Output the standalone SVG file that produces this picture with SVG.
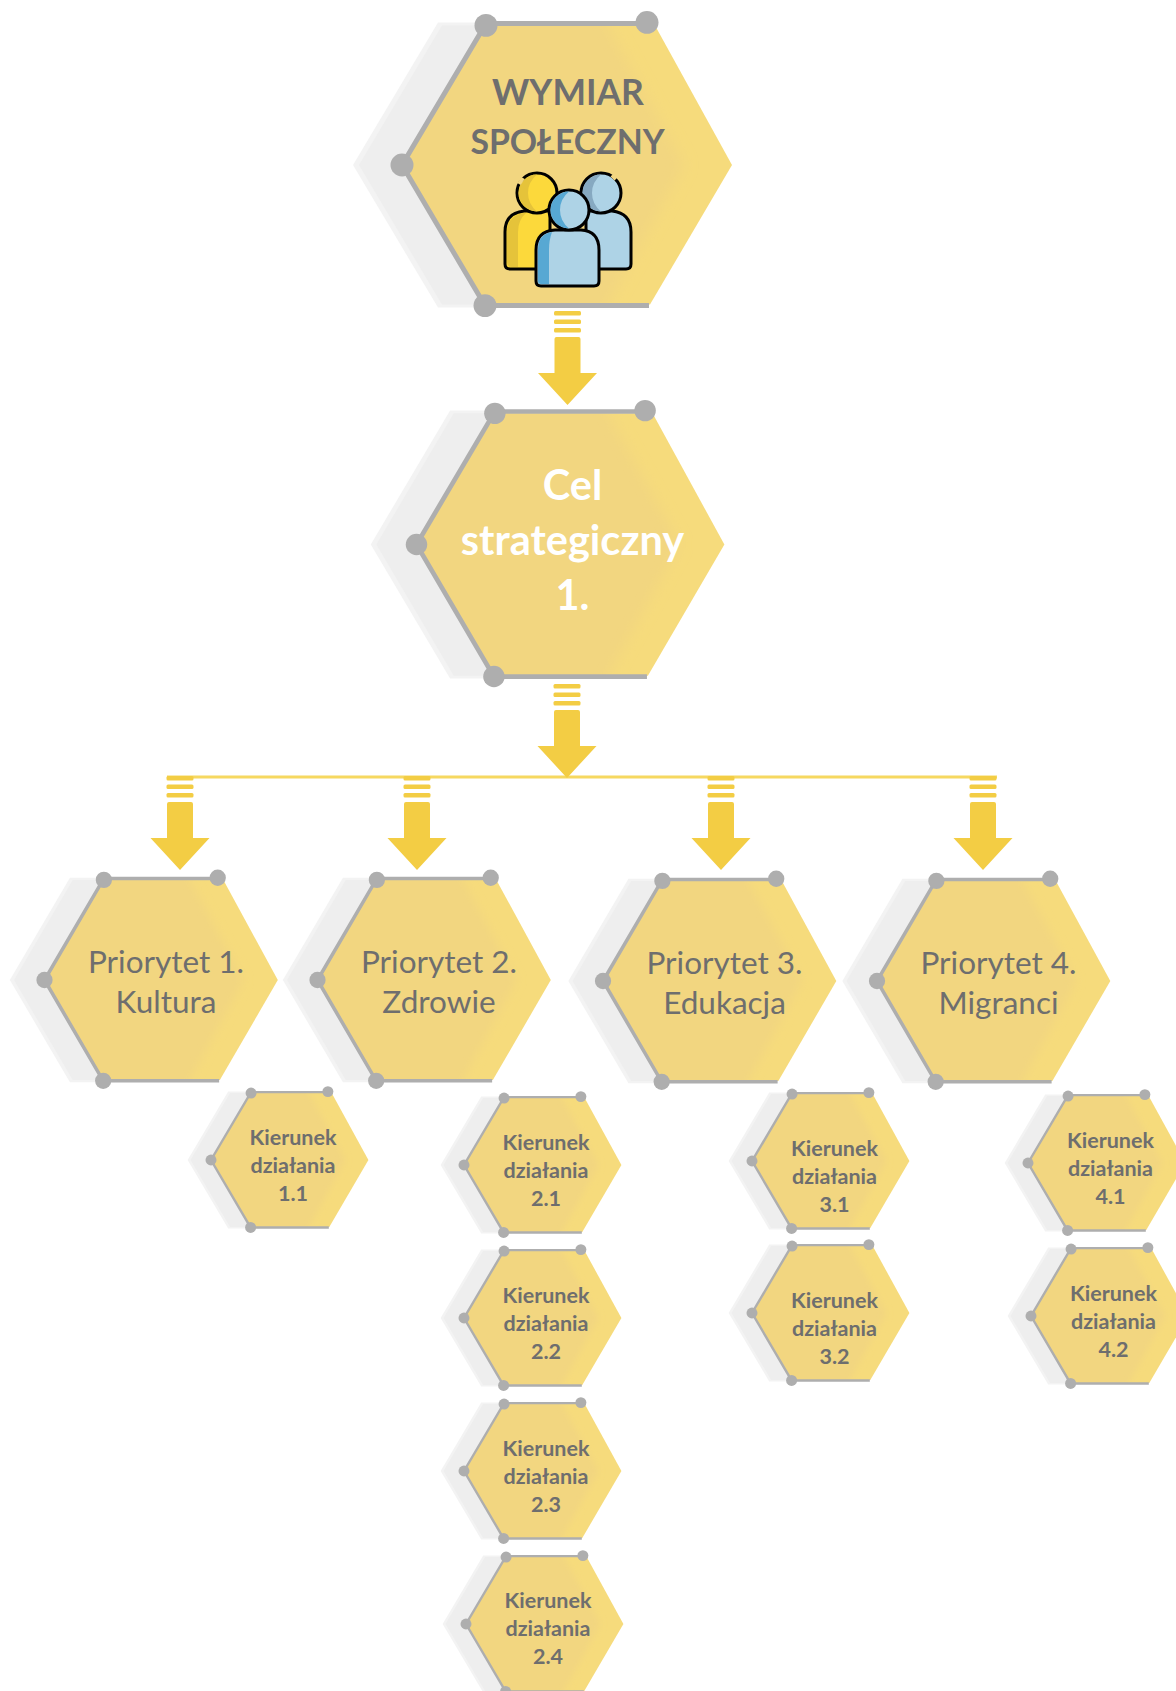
<svg xmlns="http://www.w3.org/2000/svg" width="1176" height="1691" viewBox="0 0 1176 1691">
<style>
text{font-family:"Lato","Noto Sans",sans-serif;text-anchor:middle;fill:#6e6e6e}
.t1{font-size:35.500px;font-weight:700}
.t1b{font-size:33.800px;font-weight:700}
.t2{font-size:41.500px;font-weight:700;fill:#fff}
.t3{font-size:31.500px}
.t4{font-size:21.500px;font-weight:700}
.ink{stroke:#000;stroke-width:3;stroke-linejoin:round}
</style>
<defs>
<clipPath id="hexclip"><polygon points="0,0 84,-141 253,-141 330,0 248,141 83,141"/></clipPath>
<filter id="soft" x="-10%" y="-10%" width="120%" height="120%"><feGaussianBlur stdDeviation="7"/></filter>
<g id="hex">
<polygon points="-49,0 36,-144 100,-144 100,144 36,144" fill="#f3f3f3"/>
<polygon points="-43,0 40,-141 100,-141 100,141 40,141" fill="#eeeeee"/>
<polygon points="0,0 84,-141 253,-141 330,0 248,141 83,141" fill="#f6db7c"/>
<g clip-path="url(#hexclip)"><polygon points="-20,-170 190,-170 282,0 190,170 -20,170" fill="#f2d680" filter="url(#soft)"/></g>
<path d="M245,-143 H84 L0,0 L83,142 H247" fill="none" stroke="#aeaeae" stroke-width="5"/>
<circle cx="0" cy="0" r="11.5" fill="#aeaeae"/>
<circle cx="84" cy="-141" r="11.5" fill="#aeaeae"/>
<circle cx="245" cy="-144" r="11.5" fill="#aeaeae"/>
<circle cx="83" cy="142" r="11.5" fill="#aeaeae"/>
</g>
<g id="arrow" fill="#f3cd44">
<rect x="-13.5" y="0" width="27" height="4.5" rx="1.5"/>
<rect x="-13.5" y="8.5" width="27" height="4.5" rx="1.5"/>
<rect x="-13.5" y="17" width="27" height="4.5" rx="1.5"/>
<path d="M-13,62 V28 Q-13,26 -11,26 H11 Q13,26 13,28 V62 H29.5 L0,94 L-29.5,62 Z"/>
</g>
</defs>

<g id="connectors">
<rect x="167" y="775.5" width="830" height="3" fill="#f6d860"/>
<use href="#arrow" x="567.5" y="311"/>
<use href="#arrow" x="567" y="684"/>
<use href="#arrow" x="180" y="776"/>
<use href="#arrow" x="417" y="776"/>
<use href="#arrow" x="721" y="776"/>
<use href="#arrow" x="983" y="776"/>
</g>

<g id="node-wymiar">
<use href="#hex" transform="translate(402,165) scale(1,.99)"/>
<text class="t1" x="568" y="105">WYMIAR</text>
<text class="t1b" x="567.500" y="154">SPOŁECZNY</text>
<g id="people-icon">
<path class="ink" d="M510,269 Q505,269 505,264 V232 Q505,213 524,211 H550 V269 Z" fill="#fcd93b"/>
<path d="M512,267 Q507,267 507,262 V232 Q507,216 524,213 H526 Q518,220 518,232 V267 Z" fill="#e5c33a"/>
<path class="ink" d="M626,269 Q631,269 631,264 V232 Q631,213 612,211 H586 V269 Z" fill="#aed3e6"/>
<circle class="ink" cx="537" cy="193" r="20" fill="#fcd93b"/>
<path d="M537,174.500 A18.500,18.500 0 0 0 537,211.500 Q528,204 528,193 Q528,182 537,174.500 Z" fill="#e5c33a"/>
<path d="M519,184 L523,178" fill="none" stroke="#f2d680" stroke-width="4"/>
<circle class="ink" cx="601" cy="193" r="20" fill="#aed3e6"/>
<path d="M601,174.500 A18.500,18.500 0 0 0 601,211.500 Q592,204 592,193 Q592,182 601,174.500 Z" fill="#86a9c1"/>
<path d="M612,175 L616,179" fill="none" stroke="#f2d680" stroke-width="4"/>
<path class="ink" d="M541,286 Q536,286 536,281 V250 Q536,231 555,230 H581 Q599,231 599,250 V281 Q599,286 594,286 Z" fill="#aed3e6"/>
<path d="M541,284 Q538,284 538,281 V250 Q538,234 552,232 Q549,240 549,250 V284 Z" fill="#57a8d3"/>
<circle class="ink" cx="569" cy="210" r="20" fill="#aed3e6"/>
<path d="M569,191.500 A18.500,18.500 0 0 0 569,228.500 Q560,221 560,210 Q560,199 569,191.500 Z" fill="#57a8d3"/>
</g>
</g>

<g id="node-cel">
<use href="#hex" transform="translate(416.500,544.500) scale(.933,.93)"/>
<text class="t2" x="572.500" y="500">Cel</text>
<text class="t2" x="572.500" y="555">strategiczny</text>
<text class="t2" x="572.500" y="610">1.</text>
</g>

<g id="node-p1"><use href="#hex" transform="translate(44.500,980) scale(.707,.71)"/><text class="t3" x="166" y="973">Priorytet 1.</text><text class="t3" x="166" y="1013">Kultura</text></g>
<g id="node-p2"><use href="#hex" transform="translate(317.500,980) scale(.707,.71)"/><text class="t3" x="439" y="973">Priorytet 2.</text><text class="t3" x="439" y="1013">Zdrowie</text></g>
<g id="node-p3"><use href="#hex" transform="translate(603,981) scale(.707,.71)"/><text class="t3" x="724.500" y="974">Priorytet 3.</text><text class="t3" x="724.500" y="1014">Edukacja</text></g>
<g id="node-p4"><use href="#hex" transform="translate(877,981) scale(.707,.71)"/><text class="t3" x="998.500" y="974">Priorytet 4.</text><text class="t3" x="998.500" y="1014">Migranci</text></g>

<g id="node-k11"><use href="#hex" transform="translate(211,1160) scale(.477,.475)"/><text class="t4" x="293" y="1145">Kierunek</text><text class="t4" x="293" y="1173">działania</text><text class="t4" x="293" y="1201">1.1</text></g>
<g id="node-k21"><use href="#hex" transform="translate(464,1165) scale(.477,.475)"/><text class="t4" x="546" y="1150">Kierunek</text><text class="t4" x="546" y="1178">działania</text><text class="t4" x="546" y="1206">2.1</text></g>
<g id="node-k22"><use href="#hex" transform="translate(464,1318) scale(.477,.475)"/><text class="t4" x="546" y="1303">Kierunek</text><text class="t4" x="546" y="1331">działania</text><text class="t4" x="546" y="1359">2.2</text></g>
<g id="node-k23"><use href="#hex" transform="translate(464,1471) scale(.477,.475)"/><text class="t4" x="546" y="1456">Kierunek</text><text class="t4" x="546" y="1484">działania</text><text class="t4" x="546" y="1512">2.3</text></g>
<g id="node-k24"><use href="#hex" transform="translate(466,1624) scale(.477,.475)"/><text class="t4" x="548" y="1608">Kierunek</text><text class="t4" x="548" y="1636">działania</text><text class="t4" x="548" y="1664">2.4</text></g>
<g id="node-k31"><use href="#hex" transform="translate(752,1161) scale(.477,.475)"/><text class="t4" x="834.500" y="1155.500">Kierunek</text><text class="t4" x="834.500" y="1183.500">działania</text><text class="t4" x="834.500" y="1211.500">3.1</text></g>
<g id="node-k32"><use href="#hex" transform="translate(752,1313) scale(.477,.475)"/><text class="t4" x="834.500" y="1308">Kierunek</text><text class="t4" x="834.500" y="1336">działania</text><text class="t4" x="834.500" y="1364">3.2</text></g>
<g id="node-k41"><use href="#hex" transform="translate(1028,1163) scale(.477,.475)"/><text class="t4" x="1110.500" y="1147.500">Kierunek</text><text class="t4" x="1110.500" y="1175.500">działania</text><text class="t4" x="1110.500" y="1203.500">4.1</text></g>
<g id="node-k42"><use href="#hex" transform="translate(1031,1316) scale(.477,.475)"/><text class="t4" x="1113.500" y="1300.500">Kierunek</text><text class="t4" x="1113.500" y="1328.500">działania</text><text class="t4" x="1113.500" y="1356.500">4.2</text></g>
</svg>
